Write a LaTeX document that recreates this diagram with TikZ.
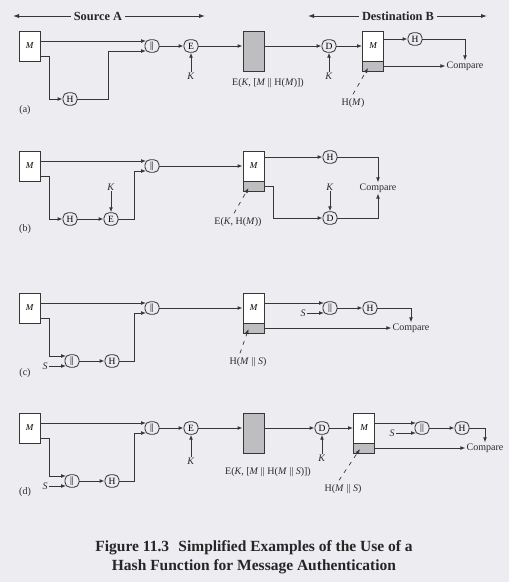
\documentclass[tikz,border=0pt]{standalone}
\usepackage{fontspec}
\setmainfont{Liberation Serif}
\usetikzlibrary{arrows.meta,calc}
\definecolor{bg}{RGB}{236,236,241}
\definecolor{ink}{RGB}{55,55,55}
\definecolor{gbox}{RGB}{190,190,193}
\begin{document}
\begin{tikzpicture}[x=1pt,y=-1pt,
  arr/.style={draw=ink, line width=0.85pt, -{Latex[length=5pt,width=3.8pt]}},
  harr/.style={draw=ink, line width=0.9pt, -{Latex[length=6pt,width=4.2pt]}},
  op/.style={draw=ink, line width=0.85pt, rounded corners=5pt, minimum width=14pt, minimum height=12.5pt, inner sep=0pt, font=\fontsize{9.5}{9.5}\selectfont},
  msgbox/.style={draw=ink, line width=0.85pt, fill=white, minimum width=21pt, minimum height=30pt, inner sep=0pt, font=\fontsize{9}{9}\selectfont\itshape},
  gpart/.style={draw=ink, line width=0.85pt, fill=gbox, minimum width=21pt, minimum height=10pt, inner sep=0pt},
  encbox/.style={draw=ink, line width=0.85pt, fill=gbox, minimum width=21pt, minimum height=40pt, inner sep=0pt},
  lbl/.style={font=\fontsize{10}{10}\selectfont, inner sep=1pt, text=ink!80!black},
  hdr/.style={font=\fontsize{12.4}{12.4}\selectfont\bfseries, fill=bg, inner sep=3pt, text=ink!70!black},
  captext/.style={font=\fontsize{15.5}{15.5}\selectfont\bfseries, inner sep=0pt, text=black!85},
  leader/.style={draw=ink, line width=0.7pt, dash pattern=on 4pt off 5pt, -{Latex[length=5pt,width=3.8pt]}}
]
\fill[bg] (0,0) rectangle (509,582);
\useasboundingbox (0,0) rectangle (509,582);

% headers
\node[hdr] (srcA) at (98,16) {Source A};
\coordinate (sAl) at (13,16); \coordinate (sAr) at (205,16);
\draw[harr] (srcA.west) -- (sAl);
\draw[harr] (srcA.east) -- (sAr);
\node[hdr] (dstB) at (398,16) {Destination B};
\coordinate (dBl) at (308,16); \coordinate (dBr) at (487,16);
\draw[harr] (dstB.west) -- (dBl);
\draw[harr] (dstB.east) -- (dBr);

% ---------- (a)
\node[msgbox] (Ma) at (29.5,46) {M};
\node[op] (Ha) at (70,99) {H};
\node[op] (Ca) at (152,46) {||};
\node[op] (Ea) at (191,46) {E};
\node[lbl] (Ka) at (191,76) {\textit{K}};
\node[encbox] (Ga) at (253.5,51) {};
\node[lbl] (GaL) at (268,83) {E(\textit{K}, [\textit{M} || H(\textit{M})])};
\node[op] (Da) at (329,46) {D};
\node[lbl] (Kda) at (329,76) {\textit{K}};
\node[msgbox] (Mda) at (373,46) {M};
\node[gpart] (Mdag) at (373,66) {};
\node[op] (Hda) at (415,39) {H};
\node[lbl] (Cmpa) at (465,66) {Compare};
\node[lbl] (HMa) at (353,103) {H(\textit{M})};
\node[lbl] (tagA) at (25,110) {(a)};

\draw[arr] ($(Ma.east)+(0,-5)$) -- ($(Ca.west)+(1.5,-5)$);
\draw[arr] ($(Ma.east)+(0,10)$) -- ++(9,0) |- (Ha.west);
\draw[arr] (Ha.east) -- ++(31,0) |- ($(Ca.west)+(1.5,5)$);
\draw[arr] (Ca) -- (Ea);
\draw[arr] (Ka) -- (Ea);
\draw[arr] (Ea.east) -- (Ea.east -| Ga.west);
\draw[arr] (Ga.east |- Da.west) -- (Da.west);
\draw[arr] (Kda) -- (Da);
\draw[arr] (Da.east) -- (Da.east -| Mda.west);
\draw[arr] (Mda.east |- Hda.west) -- (Hda.west);
\draw[arr] (Hda.east) -| (Cmpa.north);
\draw[arr] (Mdag.east) -- (Cmpa.west);
\draw[leader] ($(HMa.north)+(0,-3)$) -- ($(Mdag.center)+(-5,2)$);

% ---------- (b)
\node[msgbox] (Mb) at (29.5,166) {M};
\node[op] (Hb) at (70,219) {H};
\node[op] (Eb) at (111,219) {E};
\node[lbl] (Kb) at (111,187) {\textit{K}};
\node[op] (Cb) at (152,166) {||};
\node[msgbox] (Mdb) at (253.5,166) {M};
\node[gpart] (Mdbg) at (253.5,186) {};
\node[lbl] (EKb) at (238,222) {E(\textit{K}, H(\textit{M}))};
\node[op] (Hdb) at (330,157) {H};
\node[op] (Ddb) at (330,218) {D};
\node[lbl] (Kdb) at (330,187) {\textit{K}};
\node[lbl] (Cmpb) at (378,188) {Compare};
\node[lbl] (tagB) at (25,229) {(b)};

\draw[arr] ($(Mb.east)+(0,-5)$) -- ($(Cb.west)+(1.5,-5)$);
\draw[arr] ($(Mb.east)+(0,10)$) -- ++(9,0) |- (Hb.west);
\draw[arr] (Hb) -- (Eb);
\draw[arr] (Kb) -- (Eb);
\draw[arr] (Eb.east) -- ++(16,0) |- ($(Cb.west)+(1.5,5)$);
\draw[arr] (Cb.east) -- (Cb.east -| Mdb.west);
\draw[arr] (Mdb.east |- Hdb.west) -- (Hdb.west);
\draw[arr] (Hdb.east) -| (Cmpb.north);
\draw[arr] (Mdbg.east) -- ++(9,0) |- (Ddb.west);
\draw[arr] (Kdb) -- (Ddb);
\draw[arr] (Ddb.east) -| (Cmpb.south);
\draw[leader] ($(EKb.north)+(-4,-3)$) -- ($(Mdbg.center)+(-5,2)$);

% ---------- (c)
\node[msgbox] (Mc) at (29.5,308) {M};
\node[op] (Csc) at (72,361) {||};
\node[lbl] (Sc) at (45,366) {\textit{S}};
\node[op] (Hc) at (112,361) {H};
\node[op] (Cc) at (152,308) {||};
\node[msgbox] (Mdc) at (253.5,308) {M};
\node[gpart] (Mdcg) at (253.5,328) {};
\node[lbl] (HMSc) at (248,362) {H(\textit{M} || \textit{S})};
\node[op] (Cdc) at (330,308) {||};
\node[lbl] (Sdc) at (303,313) {\textit{S}};
\node[op] (Hdc) at (370,308) {H};
\node[lbl] (Cmpc) at (411,328) {Compare};
\node[lbl] (tagC) at (25,373) {(c)};

\draw[arr] ($(Mc.east)+(0,-5)$) -- ($(Cc.west)+(1.5,-5)$);
\draw[arr] ($(Mc.east)+(0,10)$) -- ++(9,0) |- ($(Csc.west)+(1.5,-5)$);
\draw[arr] (Sc.east) -- ($(Csc.west)+(1.5,5)$);
\draw[arr] (Csc) -- (Hc);
\draw[arr] (Hc.east) -- ++(15,0) |- ($(Cc.west)+(1.5,5)$);
\draw[arr] (Cc.east) -- (Cc.east -| Mdc.west);
\draw[arr] ($(Mdc.east)+(0,-5)$) -- ($(Cdc.west)+(1.5,-5)$);
\draw[arr] (Sdc.east) -- ($(Cdc.west)+(1.5,5)$);
\draw[arr] (Cdc) -- (Hdc);
\draw[arr] (Hdc.east) -| (Cmpc.north);
\draw[arr] (Mdcg.east) -- (Cmpc.west);
\draw[leader] ($(HMSc.north)+(-8,-3)$) -- ($(Mdcg.center)+(-5,1)$);

% ---------- (d)
\node[msgbox] (Md) at (29.5,428) {M};
\node[op] (Csd) at (72,481) {||};
\node[lbl] (Sd) at (45,486) {\textit{S}};
\node[op] (Hd) at (112,481) {H};
\node[op] (Cd) at (152,428) {||};
\node[op] (Ed) at (191,428) {E};
\node[lbl] (Kd) at (191,461) {\textit{K}};
\node[encbox] (Gd) at (253.5,433) {};
\node[lbl] (GdL) at (268,472) {E(\textit{K}, [\textit{M} || H(\textit{M} || \textit{S})])};
\node[op] (Dd) at (322,428) {D};
\node[lbl] (Kdd) at (322,458) {\textit{K}};
\node[msgbox] (Mdd) at (364,428) {M};
\node[gpart] (Mddg) at (364,448) {};
\node[op] (Cdd) at (422,428) {||};
\node[lbl] (Sdd) at (392,433) {\textit{S}};
\node[op] (Hdd) at (462,428) {H};
\node[lbl] (Cmpd) at (485,448) {Compare};
\node[lbl] (HMSd) at (343,489) {H(\textit{M} || \textit{S})};
\node[lbl] (tagD) at (25,492) {(d)};

\draw[arr] ($(Md.east)+(0,-5)$) -- ($(Cd.west)+(1.5,-5)$);
\draw[arr] ($(Md.east)+(0,10)$) -- ++(9,0) |- ($(Csd.west)+(1.5,-5)$);
\draw[arr] (Sd.east) -- ($(Csd.west)+(1.5,5)$);
\draw[arr] (Csd) -- (Hd);
\draw[arr] (Hd.east) -- ++(15,0) |- ($(Cd.west)+(1.5,5)$);
\draw[arr] (Cd) -- (Ed);
\draw[arr] (Kd) -- (Ed);
\draw[arr] (Ed.east) -- (Ed.east -| Gd.west);
\draw[arr] (Gd.east |- Dd.west) -- (Dd.west);
\draw[arr] (Kdd) -- (Dd);
\draw[arr] (Dd.east) -- (Dd.east -| Mdd.west);
\draw[arr] ($(Mdd.east)+(0,-5)$) -- ($(Cdd.west)+(1.5,-5)$);
\draw[arr] (Sdd.east) -- ($(Cdd.west)+(1.5,5)$);
\draw[arr] (Cdd) -- (Hdd);
\draw[arr] (Hdd.east) -| (Cmpd.north);
\draw[arr] (Mddg.east) -- (Cmpd.west);
\draw[leader] ($(HMSd.north)+(-4,-3)$) -- ($(Mddg.center)+(-4,1)$);

% caption
\node[captext] (cap1) at (254,548) {Figure 11.3\hspace{0.6em}Simplified Examples of the Use of a};
\node[captext] (cap2) at (254,567) {Hash Function for Message Authentication};
\end{tikzpicture}
\end{document}
